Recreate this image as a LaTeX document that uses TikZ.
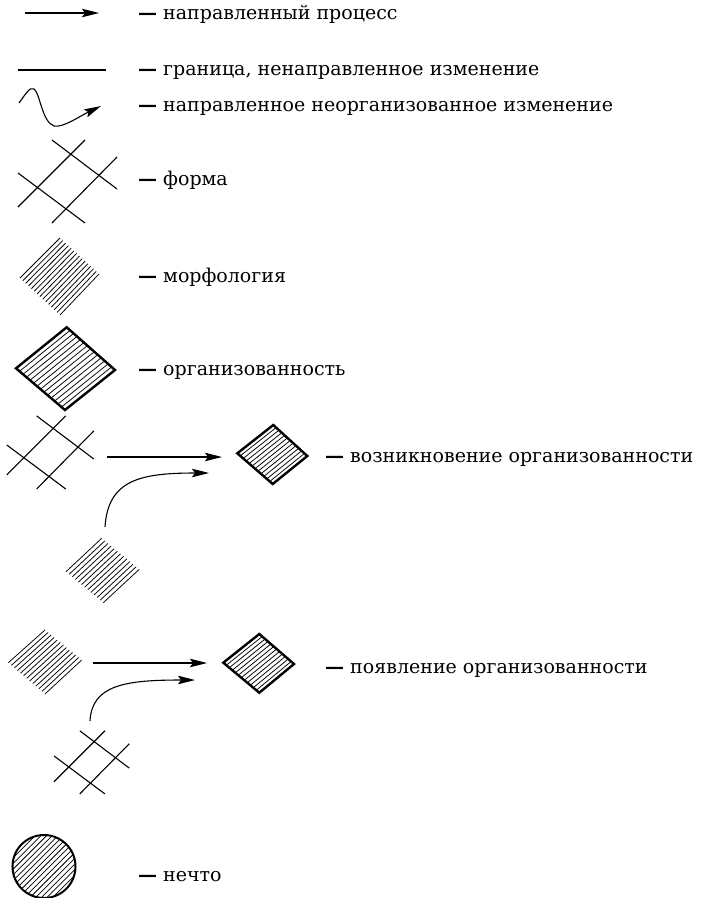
\documentclass[tikz,border=0pt]{standalone}
\usepackage{fontspec}
\setmainfont{DejaVu Serif}
\usetikzlibrary{arrows.meta,calc}

\newcommand\gridshape[4]{% name, x, y, scale
  \coordinate (#1) at (#2,#3);
  \begin{scope}[shift={(#2,#3)},scale=#4]
    \draw[thinline] (-16,-41) -- (49,8);
    \draw[thinline] (-50,-8) -- (17,42);
    \draw[thinline] (17,-41) -- (-50,26);
    \draw[thinline] (49,-24) -- (-16,42);
  \end{scope}}

\newcommand\hatchquad[6]{% name, L, T, R, B, n
  \coordinate (#1-L) at (#2); \coordinate (#1-T) at (#3);
  \coordinate (#1-R) at (#4); \coordinate (#1-B) at (#5);
  \foreach \i [evaluate=\i as \f using \i/#6] in {0,...,#6}
    \draw[hatch] ($(#1-L)!\f!(#1-B)$) -- ($(#1-T)!\f!(#1-R)$);}

\newcommand\orgdiamond[6]{% name, L, T, R, B, n
  \hatchquad{#1}{#2}{#3}{#4}{#5}{#6}
  \draw[frame] (#1-L) -- (#1-T) -- (#1-R) -- (#1-B) -- cycle;}

\newcommand\dash{\textbf{—}}

\begin{document}
\begin{tikzpicture}[x=1pt,y=-1pt,
  thinline/.style={line width=1.1pt},
  arr/.style={thinline,-{Stealth[length=17pt,width=8.5pt,inset=3pt]}},
  lbl/.style={anchor=base west,inner sep=0pt,font=\fontsize{19}{22}\selectfont},
  hatch/.style={line width=0.75pt},
  frame/.style={line width=2.4pt,line join=miter}]
\useasboundingbox (0,0) rectangle (701,898);

% row 1: directed process
\coordinate (a1s) at (25,13);
\coordinate (a1e) at (99,13);
\draw[arr] (a1s) -- (a1e);
\node[lbl] (t1) at (138,19) {\dash{} направленный процесс};

% row 2: boundary
\coordinate (b2s) at (18,70);
\coordinate (b2e) at (106,70);
\draw[thinline] (b2s) -- (b2e);
\node[lbl] (t2) at (138,75.5) {\dash{} граница, ненаправленное изменение};

% row 3: wavy arrow
\coordinate (w3s) at (19,103);
\coordinate (w3e) at (101,106);
\draw[arr] (w3s) .. controls (25,95) and (30,86) .. (34,89)
   .. controls (40,93) and (42,122) .. (54,126)
   .. controls (63,128) and (80,116) .. (w3e);
\node[lbl] (t3) at (138,111.5) {\dash{} направленное неорганизованное изменение};

% row 4: form
\gridshape{form4}{68}{181}{1}
\node[lbl] (t4) at (138,185.5) {\dash{} форма};

% row 5: morphology
\hatchquad{morph5}{20,278}{60,238}{99,274}{60,315}{14}
\node[lbl] (t5) at (138,282.5) {\dash{} морфология};

% row 6: organization
\orgdiamond{org6}{16,368.3}{66.7,327.3}{115,370}{65,410}{14}
\node[lbl] (t6) at (138,375.5) {\dash{} организованность};

% row 7: emergence of organization
\gridshape{form7}{50.75}{452}{0.88}
\hatchquad{morph7}{66,571.7}{101.7,538.3}{139.3,569.3}{103.3,602.7}{12}
\orgdiamond{org7}{237.3,453.3}{273.3,425}{307.3,456}{272.7,484}{12}
\coordinate (s7a) at (107,457);
\coordinate (e7a) at (222,457);
\draw[arr] (s7a) -- (e7a);
\coordinate (s7b) at (105,527);
\coordinate (e7b) at (209,473);
\draw[arr] (s7b) .. controls (108,480) and (140,473) .. (e7b);
\node[lbl] (t7) at (325,462.5) {\dash{} возникновение организованности};

% row 8: appearance of organization
\hatchquad{morph8}{8.3,662.7}{45,630}{81.7,660}{45,694}{12}
\gridshape{form8}{92}{762}{0.76}
\orgdiamond{org8}{223.3,662.7}{259.3,634}{294,664}{259.3,692.7}{12}
\coordinate (s8a) at (93,663);
\coordinate (e8a) at (207,663);
\draw[arr] (s8a) -- (e8a);
\coordinate (s8b) at (90,721);
\coordinate (e8b) at (195,680);
\draw[arr] (s8b) .. controls (92,685) and (125,680) .. (e8b);
\node[lbl] (t8) at (325,673.5) {\dash{} появление организованности};

% row 9: something
\coordinate (c9) at (44,866.5);
\begin{scope}
  \clip (c9) circle[radius=31.5];
  \begin{scope}[shift={(44,866.5)},rotate=45]
    \foreach \k in {-36,-32,...,36}
      \draw[hatch] (-40,\k) -- (40,\k);
  \end{scope}
\end{scope}
\draw[line width=2pt] (c9) circle[radius=31.5];
\node[lbl] (t9) at (138,881.5) {\dash{} нечто};
\end{tikzpicture}
\end{document}
